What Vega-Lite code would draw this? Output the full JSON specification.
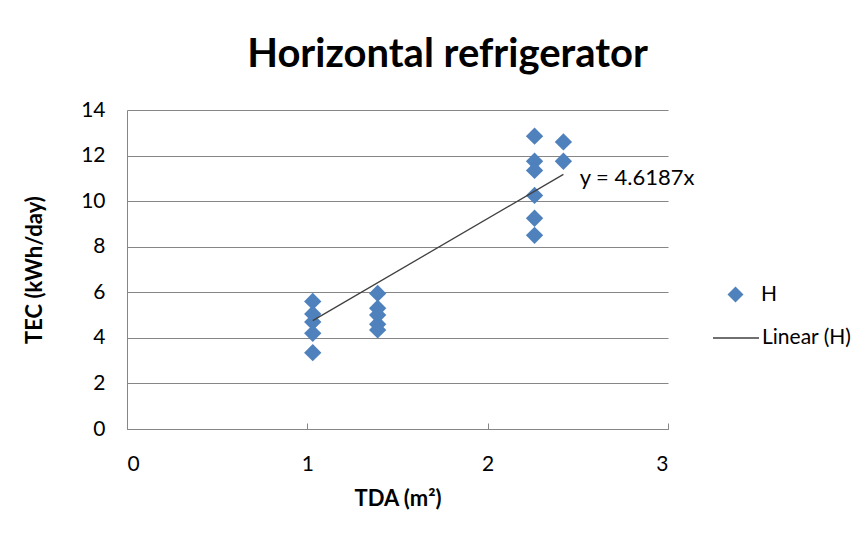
{
  "$schema": "https://vega.github.io/schema/vega-lite/v6.json",
  "width": 541,
  "height": 319,
  "autosize": {"type": "none"},
  "padding": {"left": 127, "top": 110, "right": 197, "bottom": 113},
  "background": "white",
  "config": {
    "font": "Lato",
    "view": {"stroke": null},
    "axis": {"labelFont": "Lato", "titleFont": "Lato", "labelColor": "#000", "titleColor": "#000"},
    "legend": {"labelFont": "Lato", "labelColor": "#000", "labelFontSize": 21}
  },
  "title": {
    "text": "Horizontal refrigerator",
    "fontSize": 40,
    "fontWeight": "bold",
    "font": "Lato",
    "color": "#000",
    "anchor": "middle",
    "dx": 50,
    "offset": 24
  },
  "datasets": {
    "points": [
      {"TDA": 1.03, "TEC": 5.6, "series": "H"},
      {"TDA": 1.03, "TEC": 5.05, "series": "H"},
      {"TDA": 1.03, "TEC": 4.7, "series": "H"},
      {"TDA": 1.03, "TEC": 4.2, "series": "H"},
      {"TDA": 1.03, "TEC": 3.35, "series": "H"},
      {"TDA": 1.39, "TEC": 5.95, "series": "H"},
      {"TDA": 1.39, "TEC": 5.3, "series": "H"},
      {"TDA": 1.39, "TEC": 5.0, "series": "H"},
      {"TDA": 1.39, "TEC": 4.6, "series": "H"},
      {"TDA": 1.39, "TEC": 4.35, "series": "H"},
      {"TDA": 2.26, "TEC": 12.85, "series": "H"},
      {"TDA": 2.26, "TEC": 11.75, "series": "H"},
      {"TDA": 2.26, "TEC": 11.35, "series": "H"},
      {"TDA": 2.26, "TEC": 10.25, "series": "H"},
      {"TDA": 2.26, "TEC": 9.25, "series": "H"},
      {"TDA": 2.26, "TEC": 8.5, "series": "H"},
      {"TDA": 2.42, "TEC": 12.6, "series": "H"},
      {"TDA": 2.42, "TEC": 11.75, "series": "H"}
    ],
    "fit": [
      {"TDA": 1.03, "TEC": 4.757, "series": "Linear (H)"},
      {"TDA": 2.42, "TEC": 11.177, "series": "Linear (H)"}
    ],
    "label": [
      {"TDA": 2.51, "TEC": 11.0, "text": "y = 4.6187x"}
    ]
  },
  "encoding": {
    "x": {
      "field": "TDA",
      "type": "quantitative",
      "scale": {"domain": [0, 3], "nice": false},
      "axis": {
        "title": "TDA (m²)",
        "titleFontSize": 22,
        "titleFontWeight": "bold",
        "titlePadding": 14,
        "values": [0, 0.5, 1, 1.5, 2, 2.5, 3],
        "format": "d",
        "labelExpr": "datum.value % 1 === 0 ? datum.label : ''",
        "labelFontSize": 21,
        "labelPadding": 30,
        "grid": false,
        "domainColor": "#868686",
        "tickColor": "#868686",
        "tickSize": -6
      }
    },
    "y": {
      "field": "TEC",
      "type": "quantitative",
      "scale": {"domain": [0, 14], "nice": false},
      "axis": {
        "title": "TEC (kWh/day)",
        "titleFontSize": 22,
        "titleFontWeight": "bold",
        "titlePadding": 34,
        "values": [0, 2, 4, 6, 8, 10, 12, 14],
        "labelFontSize": 21,
        "labelPadding": 22,
        "ticks": false,
        "grid": true,
        "gridColor": "#868686",
        "domainColor": "#868686"
      }
    }
  },
  "resolve": {"scale": {"color": "independent"}, "legend": {"color": "independent"}},
  "layer": [
    {
      "data": {"name": "points"},
      "mark": {"type": "point", "shape": "diamond", "filled": true, "size": 300, "opacity": 1},
      "encoding": {
        "color": {
          "field": "series",
          "type": "nominal",
          "scale": {"domain": ["H"], "range": ["#4F81BD"]},
          "legend": {
            "title": null,
            "orient": "none",
            "legendX": 598,
            "legendY": 174,
            "padding": 0,
            "symbolType": "diamond",
            "symbolSize": 256,
            "symbolOpacity": 1,
            "labelOffset": 15
          }
        }
      }
    },
    {
      "data": {"name": "fit"},
      "mark": {"type": "line", "strokeWidth": 1.3},
      "encoding": {
        "color": {
          "field": "series",
          "type": "nominal",
          "scale": {"domain": ["Linear (H)"], "range": ["#404040"]},
          "legend": {
            "title": null,
            "orient": "none",
            "legendX": 585,
            "legendY": 204,
            "padding": 0,
            "symbolType": "stroke",
            "symbolSize": 2116,
            "symbolStrokeWidth": 1.3,
            "labelOffset": 2
          }
        }
      }
    },
    {
      "data": {"name": "label"},
      "mark": {"type": "text", "align": "left", "baseline": "middle", "fontSize": 22, "font": "Lato", "color": "#000"},
      "encoding": {
        "text": {"field": "text", "type": "nominal"}
      }
    }
  ]
}
